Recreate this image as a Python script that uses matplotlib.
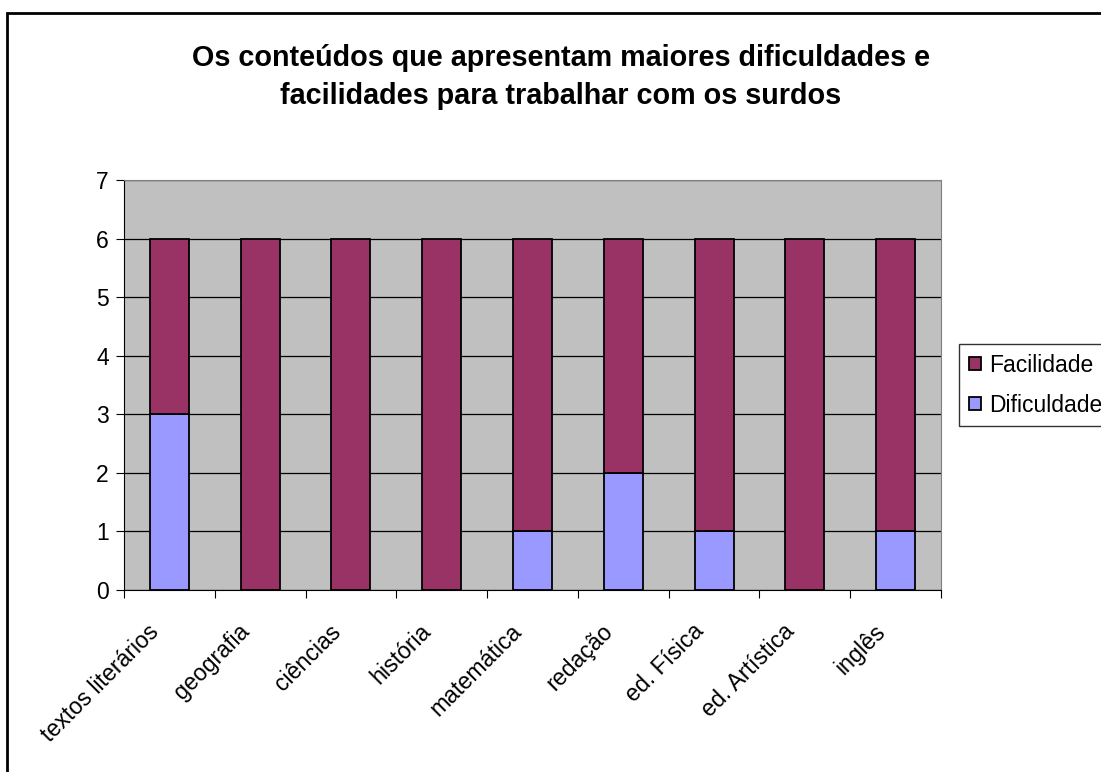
import numpy as np
import matplotlib.pyplot as plt
from matplotlib.patches import Rectangle
from matplotlib.transforms import offset_copy

plt.rcParams['font.family'] = ['Liberation Sans', 'DejaVu Sans']

materias = ["textos literários", "geografia", "ciências", "história", "matemática",
            "redação", "ed. Física", "ed. Artística", "inglês"]
dificuldade = [3, 0, 0, 0, 1, 2, 1, 0, 1]
facilidade = [3, 6, 6, 6, 5, 4, 5, 6, 5]

cor_dif = "#9999FF"
cor_fac = "#993366"

W, H = 1101, 772
fig = plt.figure(figsize=(W / 100, H / 100), dpi=100)
ax = fig.add_axes([124 / W, 1 - 590 / H, (941 - 124) / W, (590 - 180) / H])

x = np.arange(len(materias))
ax.bar(x, dificuldade, width=0.43, color=cor_dif, edgecolor="black", linewidth=1.3,
       label="Dificuldade", zorder=3)
ax.bar(x, facilidade, width=0.43, bottom=dificuldade, color=cor_fac, edgecolor="black",
       linewidth=1.3, label="Facilidade", zorder=3)

ax.set_facecolor("#C0C0C0")
ax.set_xlim(-0.5, len(materias) - 0.5)
ax.set_ylim(0, 7)
ax.set_yticks(range(0, 8))
ax.yaxis.grid(True, color="black", linewidth=0.9, zorder=1)
ax.set_axisbelow(True)

# ticks at category boundaries, labels placed under each category
ax.set_xticks(np.arange(-0.5, len(materias)))
ax.set_xticklabels([])
ax.tick_params(axis="x", length=5.5, direction="out", color="black")
ax.tick_params(axis="y", length=6, direction="out", labelsize=16.5, pad=5)

trans = offset_copy(ax.get_xaxis_transform(), fig=fig, x=-14, y=-38, units="dots")
for xi, nome in zip(x, materias):
    ax.text(xi, 0, nome, transform=trans, rotation=45, ha="right", va="center",
            rotation_mode="anchor", fontsize=16.7)

for s in ["top", "right"]:
    ax.spines[s].set_color("#808080")
for s in ["left", "bottom"]:
    ax.spines[s].set_color("black")

fig.text(561 / W, 1 - 77 / H, "Os conteúdos que apresentam maiores dificuldades e\nfacilidades para trabalhar com os surdos",
         ha="center", va="center", fontsize=20.7, fontweight="bold", linespacing=1.45)

h, l = ax.get_legend_handles_labels()
leg = fig.legend(h[::-1], l[::-1], loc="upper left", bbox_to_anchor=(959 / W, 1 - 344 / H),
                 fontsize=16.5, frameon=True, fancybox=False, edgecolor="black",
                 handlelength=0.55, handleheight=0.55, handletextpad=0.35,
                 borderpad=0.42, borderaxespad=0, labelspacing=0.74)
leg.get_frame().set_linewidth(1.0)

fig.patches.append(Rectangle((7 / W, -0.05), 1.2, (772 - 13) / H + 0.05,
                             transform=fig.transFigure, fill=False,
                             edgecolor="black", linewidth=2))

fig.savefig("out.png", dpi=100)
